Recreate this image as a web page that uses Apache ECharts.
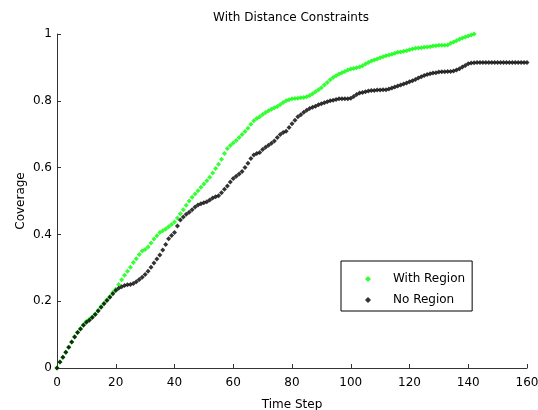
<!DOCTYPE html>
<html>
<head>
<meta charset="utf-8">
<script src="https://cdn.jsdelivr.net/npm/echarts@6/dist/echarts.min.js"></script>
<style>html,body{margin:0;padding:0;background:#fff;}#c{width:538px;height:410px;}</style>
</head>
<body>
<div id="c"></div>
<script>
var title = "With Distance Constraints";
var xName = "Time Step";
var yName = "Coverage";
var seriesNames = ["With Region", "No Region"];
var xTicks = [0, 20, 40, 60, 80, 100, 120, 140, 160];
var yTicks = [0, 0.2, 0.4, 0.6, 0.8, 1];

// Coverage per time step (index = time step)
var withRegion = [
0.000,0.018,0.032,0.047,0.062,0.078,0.094,0.107,0.118,0.130,
0.139,0.146,0.153,0.162,0.173,0.184,0.194,0.204,0.214,0.226,
0.236,0.250,0.264,0.278,0.290,0.302,0.316,0.327,0.340,0.350,
0.355,0.362,0.374,0.386,0.396,0.406,0.411,0.416,0.423,0.430,
0.437,0.449,0.462,0.474,0.487,0.500,0.511,0.521,0.531,0.541,
0.551,0.561,0.571,0.584,0.597,0.610,0.625,0.642,0.657,0.666,
0.674,0.681,0.690,0.699,0.708,0.718,0.730,0.740,0.747,0.752,
0.759,0.765,0.770,0.775,0.779,0.783,0.789,0.795,0.800,0.803,
0.806,0.807,0.808,0.809,0.810,0.812,0.816,0.821,0.827,0.833,
0.839,0.847,0.855,0.863,0.870,0.875,0.880,0.884,0.888,0.892,
0.895,0.897,0.899,0.901,0.905,0.910,0.915,0.919,0.922,0.925,
0.929,0.932,0.935,0.937,0.939,0.942,0.945,0.946,0.948,0.950,
0.953,0.955,0.957,0.958,0.959,0.960,0.961,0.962,0.964,0.965,
0.966,0.966,0.966,0.967,0.972,0.976,0.980,0.984,0.988,0.991,
0.994,0.997,1.000
];
var noRegion = [
0.000,0.018,0.032,0.047,0.062,0.078,0.093,0.106,0.117,0.128,
0.137,0.143,0.151,0.160,0.171,0.182,0.192,0.202,0.212,0.222,
0.232,0.239,0.243,0.247,0.249,0.250,0.253,0.258,0.265,0.272,
0.280,0.290,0.302,0.314,0.326,0.338,0.353,0.370,0.387,0.397,
0.406,0.425,0.443,0.452,0.460,0.466,0.474,0.482,0.488,0.492,
0.495,0.498,0.503,0.509,0.513,0.516,0.525,0.535,0.545,0.557,
0.567,0.574,0.581,0.588,0.600,0.613,0.627,0.638,0.642,0.645,
0.654,0.661,0.667,0.673,0.680,0.690,0.699,0.705,0.709,0.720,
0.731,0.742,0.752,0.758,0.766,0.772,0.777,0.781,0.784,0.788,
0.791,0.794,0.797,0.800,0.802,0.804,0.806,0.806,0.806,0.806,
0.808,0.813,0.819,0.823,0.825,0.827,0.829,0.831,0.831,0.832,
0.832,0.833,0.833,0.835,0.838,0.841,0.844,0.847,0.850,0.853,
0.857,0.860,0.864,0.868,0.872,0.876,0.879,0.881,0.883,0.884,
0.886,0.887,0.887,0.888,0.888,0.889,0.892,0.896,0.901,0.906,
0.911,0.913,0.914,0.915,0.915,0.915,0.915,0.915,0.915,0.915,
0.915,0.915,0.915,0.915,0.915,0.915,0.915,0.915,0.915,0.915,
0.915
];

function pairs(arr){ return arr.map(function(v,i){ return [i, v]; }); }

var FONT = "'DejaVu Sans', sans-serif";
var FS = 12;
var chart = echarts.init(document.getElementById('c'), null, {renderer:'canvas'});
chart.setOption({
  animation: false,
  backgroundColor: '#fff',
  textStyle: { fontFamily: FONT },
  title: {
    text: title, left: 286, top: 7, textAlign: 'center',
    textStyle: { fontSize: FS, fontWeight: 'normal', color: '#000', fontFamily: FONT }
  },
  grid: { left: 57, right: 11, top: 34, bottom: 42, containLabel: false, outerBoundsMode: 'none' },
  legend: {
    orient: 'vertical', left: 341, top: 261,
    padding: [12, 7, 5, 24], itemGap: 9,
    itemWidth: 6, itemHeight: 6,
    backgroundColor: '#fff', borderColor: '#000', borderWidth: 1, borderRadius: 0,
    textStyle: { fontSize: FS, color: '#000', fontFamily: FONT, padding: [0, 0, 0, 17] },
    data: [{name: seriesNames[0], icon: 'diamond'}, {name: seriesNames[1], icon: 'diamond'}]
  },
  xAxis: {
    type: 'value', min: xTicks[0], max: xTicks[xTicks.length-1], interval: 20,
    name: xName, nameLocation: 'middle', nameGap: 31,
    nameTextStyle: { fontSize: FS, color: '#000', fontFamily: FONT },
    axisLine: { show: true, lineStyle: { color: '#333', width: 1 } },
    axisTick: { show: true, inside: true, length: 4, lineStyle: { color: '#333' } },
    axisLabel: { fontSize: FS, color: '#000', margin: 9, fontFamily: FONT },
    splitLine: { show: false }
  },
  yAxis: {
    type: 'value', min: yTicks[0], max: yTicks[yTicks.length-1], interval: 0.2,
    name: yName, nameLocation: 'middle', nameGap: 30, nameRotate: 90, nameMoveOverlap: false,
    nameTextStyle: { fontSize: FS, color: '#000', fontFamily: FONT },
    axisLine: { show: true, lineStyle: { color: '#333', width: 1 } },
    axisTick: { show: true, inside: true, length: 4, lineStyle: { color: '#333' } },
    axisLabel: { fontSize: FS, color: '#000', margin: 5, fontFamily: FONT,
      formatter: function(v){ return String(Math.round(v*10)/10); } },
    splitLine: { show: false }
  },
  series: [
    { name: seriesNames[0], type: 'scatter', data: pairs(withRegion),
      symbol: 'diamond', symbolSize: 5, itemStyle: { color: '#00ff00' } },
    { name: seriesNames[1], type: 'scatter', data: pairs(noRegion),
      symbol: 'diamond', symbolSize: 5, itemStyle: { color: '#000000' } }
  ]
});
</script>
</body>
</html>
